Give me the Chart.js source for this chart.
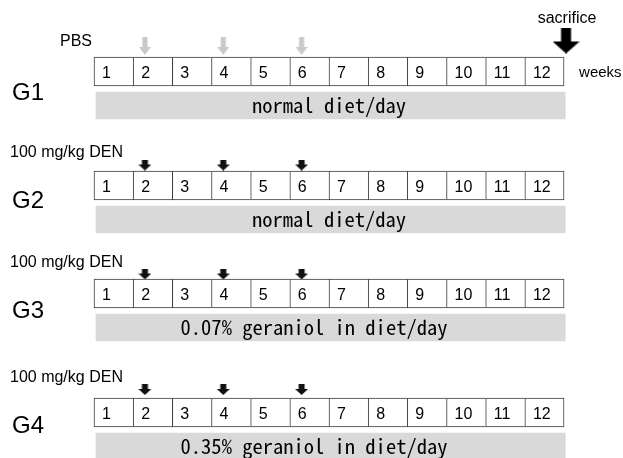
<!DOCTYPE html>
<html>
<head>
<meta charset="utf-8">
<script src="https://cdn.jsdelivr.net/npm/chart.js@4"></script>
<style>
  body { margin: 0; background: #fff; }
  canvas { display: block; }
</style>
</head>
<body>
<canvas id="schedule" width="623" height="458"></canvas>
<script>
// study design data
const groups = ['G1', 'G2', 'G3', 'G4'];
const weeks = [1, 2, 3, 4, 5, 6, 7, 8, 9, 10, 11, 12];
const treatments = ['PBS', '100 mg/kg DEN', '100 mg/kg DEN', '100 mg/kg DEN'];
const injectionWeeks = [2, 4, 6];
const diets = ['normal diet/day', 'normal diet/day', '0.07% geraniol in diet/day', '0.35% geraniol in diet/day'];
const sacrificeWeek = 12;

// layout (y scale runs top -> bottom in px units)
const rowTop = [57, 171, 279, 398];
const boxH = 29;
const dietTop = 35, dietH = 27;
const dietDx = [0, 0, -15, -15];
const arrowDy = [-11, -6, -5, -8.5];
const groupDy = [43, 37, 39, 35];
const treatDy = [-11, -14, -12, -16];
const treatX = [60, 10, 10, 10];
const monoFont = '"Noto Sans Mono CJK JP", "DejaVu Sans Mono", monospace';

function makeArrow(w, h, shaft, head, color) {
  const c = document.createElement('canvas');
  c.width = w; c.height = h;
  const g = c.getContext('2d');
  g.fillStyle = color;
  g.beginPath();
  g.moveTo(w / 2 - shaft / 2, 0);
  g.lineTo(w / 2 + shaft / 2, 0);
  g.lineTo(w / 2 + shaft / 2, h - head);
  g.lineTo(w, h - head);
  g.lineTo(w / 2, h);
  g.lineTo(0, h - head);
  g.lineTo(w / 2 - shaft / 2, h - head);
  g.closePath();
  g.fill();
  return c;
}
const grayArrow = makeArrow(12, 18, 5, 8, '#c9c9c9');
const blackArrow = makeArrow(13, 11, 6, 6, '#111');
const bigArrow = makeArrow(27, 26, 10, 12, '#000');

const cells = [];
groups.forEach((g, gi) => {
  weeks.forEach(w => cells.push({ x: [w - 1, w], y: rowTop[gi] + boxH / 2, last: w === weeks.length }));
});
const dietBars = groups.map((g, gi) => ({ x: [0.05, weeks.length + 0.03], y: rowTop[gi] + dietTop + dietH / 2 }));
const pbsPoints = injectionWeeks.map(w => ({ x: w - 0.7, y: rowTop[0] + arrowDy[0] }));
const denPoints = [];
groups.forEach((g, gi) => {
  if (gi === 0) return;
  injectionWeeks.forEach(w => denPoints.push({ x: w - 0.7, y: rowTop[gi] + arrowDy[gi] }));
});

const labelsPlugin = {
  id: 'labels',
  afterDatasetsDraw(chart) {
    const ctx = chart.ctx;
    const xs = chart.scales.x, ys = chart.scales.y;
    ctx.save();
    ctx.fillStyle = '#000';
    groups.forEach((g, gi) => {
      const top = rowTop[gi];
      // week numbers
      ctx.font = '16px "Liberation Sans", Arial, sans-serif';
      ctx.textAlign = 'left';
      ctx.textBaseline = 'alphabetic';
      weeks.forEach(w => {
        ctx.fillText(String(w), xs.getPixelForValue(w - 1) + 8, ys.getPixelForValue(top + 20.5));
      });
      // group name
      ctx.font = '24px "Liberation Sans", Arial, sans-serif';
      ctx.fillText(g, 12, ys.getPixelForValue(top + groupDy[gi]));
      // treatment
      ctx.font = '16px "Liberation Sans", Arial, sans-serif';
      ctx.fillText(treatments[gi], treatX[gi], ys.getPixelForValue(top + treatDy[gi]));
      // diet, half-width gothic: ~10.27 px per character
      ctx.font = '20px ' + monoFont;
      const size = 20 * diets[gi].length * 10.27 / ctx.measureText(diets[gi]).width;
      ctx.font = size.toFixed(2) + 'px ' + monoFont;
      ctx.textAlign = 'center';
      ctx.fillText(diets[gi], xs.getPixelForValue(weeks.length / 2) + dietDx[gi], ys.getPixelForValue(top + dietTop + 21));
    });
    ctx.font = '16px "Liberation Sans", Arial, sans-serif';
    ctx.textAlign = 'center';
    ctx.fillText('sacrifice', xs.getPixelForValue(sacrificeWeek) + 3, ys.getPixelForValue(23));
    ctx.font = '15px "Liberation Sans", Arial, sans-serif';
    ctx.textAlign = 'left';
    ctx.fillText('weeks', xs.getPixelForValue(sacrificeWeek) + 15, ys.getPixelForValue(rowTop[0] + 20));
    ctx.restore();
  }
};

new Chart(document.getElementById('schedule'), {
  type: 'bar',
  data: {
    datasets: [
      {
        label: 'diet',
        data: dietBars,
        indexAxis: 'y',
        grouped: false,
        barThickness: dietH,
        backgroundColor: '#d9d9d9',
        borderWidth: 0
      },
      {
        label: 'weeks',
        data: cells,
        indexAxis: 'y',
        grouped: false,
        barThickness: boxH,
        backgroundColor: '#fff',
        borderColor: '#3c3c3c',
        borderSkipped: false,
        borderWidth: c => ({ top: 1, bottom: 1, left: 1, right: c.raw && c.raw.last ? 1 : 0 })
      },
      {
        type: 'scatter',
        label: 'PBS',
        data: pbsPoints,
        indexAxis: 'x',
        pointStyle: grayArrow
      },
      {
        type: 'scatter',
        label: 'DEN',
        data: denPoints,
        indexAxis: 'x',
        pointStyle: blackArrow
      },
      {
        type: 'scatter',
        label: 'sacrifice',
        data: [{ x: sacrificeWeek + 0.05, y: rowTop[0] - 16.5 }],
        indexAxis: 'x',
        pointStyle: bigArrow
      }
    ]
  },
  options: {
    responsive: false,
    animation: false,
    indexAxis: 'y',
    layout: { padding: 0, autoPadding: false },
    plugins: { legend: { display: false }, tooltip: { enabled: false } },
    scales: {
      x: { type: 'linear', min: -2.4, max: 13.505, display: false, offset: false },
      y: { type: 'linear', min: 0, max: 458, reverse: true, display: false, offset: false }
    }
  },
  plugins: [labelsPlugin]
});
</script>
</body>
</html>
